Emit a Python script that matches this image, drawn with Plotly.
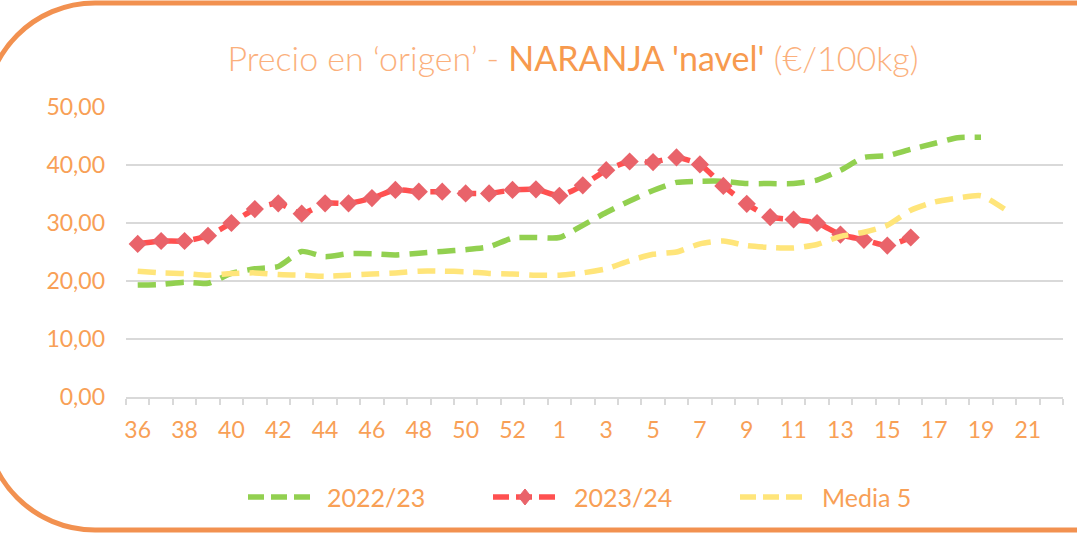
import plotly.graph_objects as go

# ---------------- data ----------------
weeks = [str(w) for w in range(36, 54)] + [str(w) for w in range(1, 23)]

s2022_23 = [19.3, 19.4, 19.8, 19.6, 21.3, 22.1, 22.5, 25.1, 24.2, 24.7, 24.7, 24.5,
            24.8, 25.1, 25.4, 25.9, 27.4, 27.5, 27.5, 29.6, 31.8, 33.8, 35.6, 37.0,
            37.2, 37.2, 36.8, 36.8, 36.8, 37.4, 39.1, 41.3, 41.6, 42.7, 43.7, 44.7,
            44.8, None, None, None]

s2023_24 = [26.4, 26.9, 26.9, 27.8, 30.0, 32.4, 33.4, 31.6, 33.4, 33.4, 34.3, 35.7,
            35.4, 35.4, 35.1, 35.1, 35.7, 35.8, 34.7, 36.5, 39.1, 40.6, 40.5, 41.3,
            40.1, 36.4, 33.3, 31.0, 30.6, 30.0, 28.0, 27.1, 26.1, 27.5, None, None,
            None, None, None, None]

media5 = [21.7, 21.4, 21.3, 21.0, 21.3, 21.4, 21.1, 21.0, 20.8, 21.0, 21.2, 21.4,
          21.7, 21.7, 21.6, 21.3, 21.2, 21.0, 21.0, 21.4, 22.1, 23.5, 24.6, 25.0,
          26.4, 26.9, 26.1, 25.8, 25.7, 26.3, 27.7, 28.4, 29.6, 32.2, 33.6, 34.3,
          34.7, 32.4, None, None]

series_names = ["2022/23", "2023/24", "Media 5"]
series_colors = ["#92D050", "#FF5050", "#FFE57A"]
tick_labels = [w if i % 2 == 0 else "" for i, w in enumerate(weeks)]

# ---------------- style ----------------
W, H = 1077, 533
L, R, T, B = 126, 14, 107, 136
FONT = "Lato"
TXT = "#F8A056"
GRID = "#D9D9D9"
DASH = "18px,10px"
LW = 5.5
MARKER_COLOR = "#E9636A"

fig = go.Figure()
for name, vals, col in zip(series_names, [s2022_23, s2023_24, media5], series_colors):
    is_red = name == "2023/24"
    fig.add_trace(go.Scatter(
        x=weeks, y=vals, name=name, mode="lines+markers" if is_red else "lines",
        line=dict(color=col, width=LW, dash=DASH, shape="spline", smoothing=0.6),
        marker=dict(symbol="diamond", size=14, color=MARKER_COLOR),
        connectgaps=False, showlegend=False))

pw, ph = W - L - R, H - T - B
def px(x):
    return (x - L) / pw
def py(y):
    return (H - B - y) / ph

# ---------------- frame (rounded orange border) ----------------
r = 110
xl, yt, yb = -15, 3, 530
k = 0.5523 * r
pts = [
    ("M", [(1090, yt)]),
    ("L", [(xl + r, yt)]),
    ("C", [(xl + r - k, yt), (xl, yt + r - k), (xl, yt + r)]),
    ("L", [(xl, yb - r)]),
    ("C", [(xl, yb - r + k), (xl + r - k, yb), (xl + r, yb)]),
    ("L", [(1090, yb)]),
]
path = " ".join(cmd + " " + " ".join(f"{px(a):.5f},{py(b):.5f}" for a, b in p) for cmd, p in pts)
fig.add_shape(type="path", path=path, xref="paper", yref="paper",
              line=dict(color="#F29150", width=5), layer="above")

# ---------------- manual legend ----------------
leg_y = 497
leg_items = [  # (line start px, line end px, text start px)
    (248, 312, 325),
    (493, 557, 572),
    (740, 804, 820),
]
for (x0, x1, xt), name, col in zip(leg_items, series_names, series_colors):
    fig.add_shape(type="line", xref="paper", yref="paper",
                  x0=px(x0), x1=px(x1), y0=py(leg_y), y1=py(leg_y),
                  line=dict(color=col, width=LW, dash="16px,7px"))
    if name == "2023/24":
        cx, d = (x0 + x1) / 2, 8
        dpath = (f"M {px(cx):.5f},{py(leg_y - d):.5f} L {px(cx + d * 0.8):.5f},{py(leg_y):.5f} "
                 f"L {px(cx):.5f},{py(leg_y + d):.5f} L {px(cx - d * 0.8):.5f},{py(leg_y):.5f} Z")
        fig.add_shape(type="path", xref="paper", yref="paper", path=dpath,
                      fillcolor=MARKER_COLOR, line=dict(color=MARKER_COLOR, width=1))
    fig.add_annotation(text=name, xref="paper", yref="paper", x=px(xt), y=py(leg_y),
                       xanchor="left", yanchor="middle", showarrow=False,
                       font=dict(family=FONT, size=25, color=TXT))

fig.update_layout(
    width=W, height=H,
    margin=dict(l=L, r=R, t=T, b=B, autoexpand=False),
    paper_bgcolor="white", plot_bgcolor="white",
    separators=",.",
    font=dict(family=FONT, color=TXT, size=20),
    title=dict(
        text="Precio en ‘origen’ - <span style='color:#F79A4E;font-weight:400'>NARANJA 'navel'</span> (€/100kg)",
        x=573 / W, xanchor="center", y=1 - 59 / H, yanchor="middle",
        yref="container", xref="container",
        font=dict(family=FONT, size=34, color="#FBB07C", weight=300)),
    showlegend=False,
    xaxis=dict(
        type="category", range=[-0.5, len(weeks) - 0.5],
        tickmode="array", tickvals=weeks, ticktext=tick_labels,
        tickson="boundaries", ticks="outside", ticklen=6, tickcolor=GRID, tickwidth=1.5,
        showline=True, linecolor=GRID, linewidth=1.5, showgrid=False, tickangle=0,
        tickfont=dict(family=FONT, size=23, color=TXT), ticklabelstandoff=12,
        zeroline=False, fixedrange=True, automargin=False),
    yaxis=dict(
        range=[0, 50], dtick=10, tickformat=".2f",
        showgrid=True, gridcolor=GRID, gridwidth=1.5, zeroline=False,
        showline=False, ticks="", tickfont=dict(family=FONT, size=23, color=TXT),
        ticklabelstandoff=20, fixedrange=True, automargin=False),
)

fig.write_html("out.html", config={"displayModeBar": False},
               post_script="document.body.style.margin='0';")
